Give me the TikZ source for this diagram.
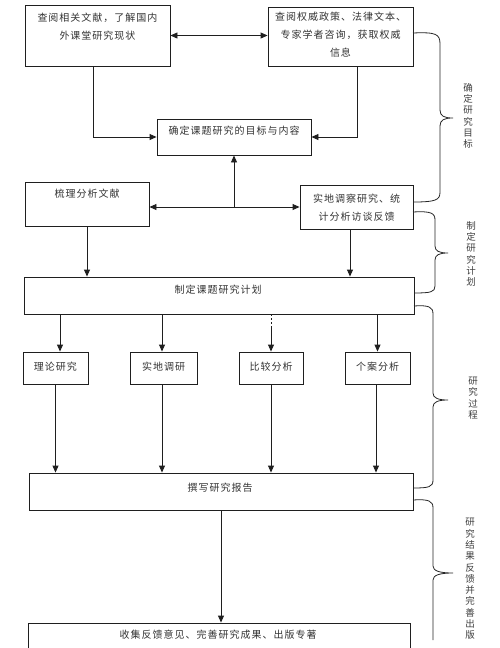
\documentclass[tikz,border=0pt]{standalone}
\usepackage{fontspec}
\setmainfont{Noto Sans CJK SC}[LetterSpace=10]
\usetikzlibrary{arrows.meta}
\begin{document}
\begin{tikzpicture}[x=1pt,y=-1pt,
  box/.style={draw=black!88, line width=0.9pt, rectangle, inner sep=0pt},
  lbl/.style={font=\fontsize{10}{18}\selectfont, align=center, inner sep=0pt, text=black!80},
  conn/.style={draw=black!88, line width=0.9pt, -{Triangle[length=7pt,width=6pt]}},
  dbl/.style={draw=black!88, line width=0.9pt, {Triangle[length=7pt,width=6pt]}-{Triangle[length=7pt,width=6pt]}},
  brace/.style={draw=black!85, line width=0.8pt},
  side/.style={font=\fontsize{9.5}{11.3}\selectfont, align=center, inner sep=0pt, text=black!75}
]
\fill[white] (0,0) rectangle (500,648);
\useasboundingbox (0,0) rectangle (500,648);

% boxes
\node[box, minimum width=145pt, minimum height=61pt] (A) at (97.5,35.5) {};
\node[lbl, anchor=north] (At) at (97.5,13) {查阅相关文献，了解国内\\外课堂研究现状};
\node[box, minimum width=145pt, minimum height=59pt] (B) at (340.5,36.5) {};
\node[lbl, anchor=north] (Bt) at (340.5,12) {查阅权威政策、法律文本、\\专家学者咨询，获取权威\\信息};
\node[box, minimum width=154pt, minimum height=36pt] (C) at (234,137) {};
\node[lbl] (Ct) at (234,131) {确定课题研究的目标与内容};
\node[box, minimum width=124pt, minimum height=44pt] (D) at (87,204) {};
\node[lbl] (Dt) at (87,194) {梳理分析文献};
\node[box, minimum width=113pt, minimum height=44pt] (E) at (356.5,207) {};
\node[lbl, anchor=north] (Et) at (356.5,194) {实地调察研究、统\\计分析访谈反馈};
\node[box, minimum width=390pt, minimum height=37pt] (F) at (219,295.5) {};
\node[lbl] (Ft) at (218,290) {制定课题研究计划};
\node[box, minimum width=65pt, minimum height=32pt] (G1) at (55.5,368) {};
\node[lbl] (G1t) at (55.5,366.5) {理论研究};
\node[box, minimum width=67pt, minimum height=32pt] (G2) at (163.5,368) {};
\node[lbl] (G2t) at (163.5,366.5) {实地调研};
\node[box, minimum width=64pt, minimum height=32pt] (G3) at (271,368) {};
\node[lbl] (G3t) at (271,366.5) {比较分析};
\node[box, minimum width=65pt, minimum height=32pt] (G4) at (377.5,368) {};
\node[lbl] (G4t) at (377.5,366.5) {个案分析};
\node[box, minimum width=384pt, minimum height=37pt] (H) at (221,491.5) {};
\node[lbl] (Ht) at (220,488) {撰写研究报告};
\node[box, minimum width=382pt, minimum height=40pt] (I) at (219,643) {};
\node[lbl] (It) at (218,635) {收集反馈意见、完善研究成果、出版专著};

% connectors
\draw[dbl] (A.east) -- (A.east -| B.west);
\draw[conn] ([xshift=-4.5pt]A.south) |- (C.west);
\draw[conn] ([xshift=16.5pt]B.south) |- (C.east);
\coordinate (J) at (C.south |- E.west);
\draw[dbl] (D.east |- J) -- (E.west |- J);
\draw[conn] (J) -- (C.south);
\draw[conn] (D.south) -- (D.south |- F.north);
\draw[conn] ([xshift=-6.5pt]E.south) -- ([xshift=-6.5pt]E.south |- F.north);
\draw[conn] ([xshift=4.5pt]F.south -| G1.north) -- ([xshift=4.5pt]G1.north);
\draw[conn] ([xshift=-1.5pt]F.south -| G2.north) -- ([xshift=-1.5pt]G2.north);
\draw[conn, dash pattern=on 2pt off 2pt on 2pt off 2pt on 2pt off 2pt on 100pt off 0pt] (F.south -| G3.north) -- (G3.north);
\draw[conn] (F.south -| G4.north) -- (G4.north);
\draw[conn] (G1.south) -- (G1.south |- H.north);
\draw[conn] ([xshift=-1.5pt]G2.south) -- ([xshift=-1.5pt]G2.south |- H.north);
\draw[conn] (G3.south) -- (G3.south |- H.north);
\draw[conn] ([xshift=-1.5pt]G4.south) -- ([xshift=-1.5pt]G4.south |- H.north);
\draw[conn] (H.south) -- (H.south |- I.north);

% braces
\draw[brace] (413,33) .. controls (436,32) and (440,34) .. (440,44) -- (440,110)
  .. controls (440,116) and (444,118) .. (453,118)
  .. controls (444,118) and (440,120) .. (440,126) -- (440,192)
  .. controls (440,200) and (436,202) .. (413,202);
\draw[brace] (413,212) .. controls (431,211) and (435,213) .. (435,220) -- (435,246)
  .. controls (435,251) and (439,253) .. (448,253)
  .. controls (439,253) and (435,255) .. (435,260) -- (435,286)
  .. controls (435,292) and (431,293) .. (414,293);
\draw[brace] (414,306) .. controls (429,305) and (433,307) .. (433,314) -- (433,393)
  .. controls (433,398) and (438,400) .. (448,400)
  .. controls (438,400) and (433,402) .. (433,407) -- (433,480)
  .. controls (433,487) and (429,488) .. (413,488);
\draw[brace] (413,500) .. controls (429,499) and (433,501) .. (433,508) -- (433,566)
  .. controls (433,571) and (440,573) .. (453,573)
  .. controls (440,573) and (433,575) .. (433,580) -- (433,640);

\node[side] (S1) at (468,116) {确\\定\\研\\究\\目\\标};
\node[side] (S2) at (471,254) {制\\定\\研\\究\\计\\划};
\node[side] (S3) at (473,398) {研\\究\\过\\程};
\node[side] (S4) at (470,579) {研\\究\\结\\果\\反\\馈\\并\\完\\善\\出\\版};
\end{tikzpicture}
\end{document}
